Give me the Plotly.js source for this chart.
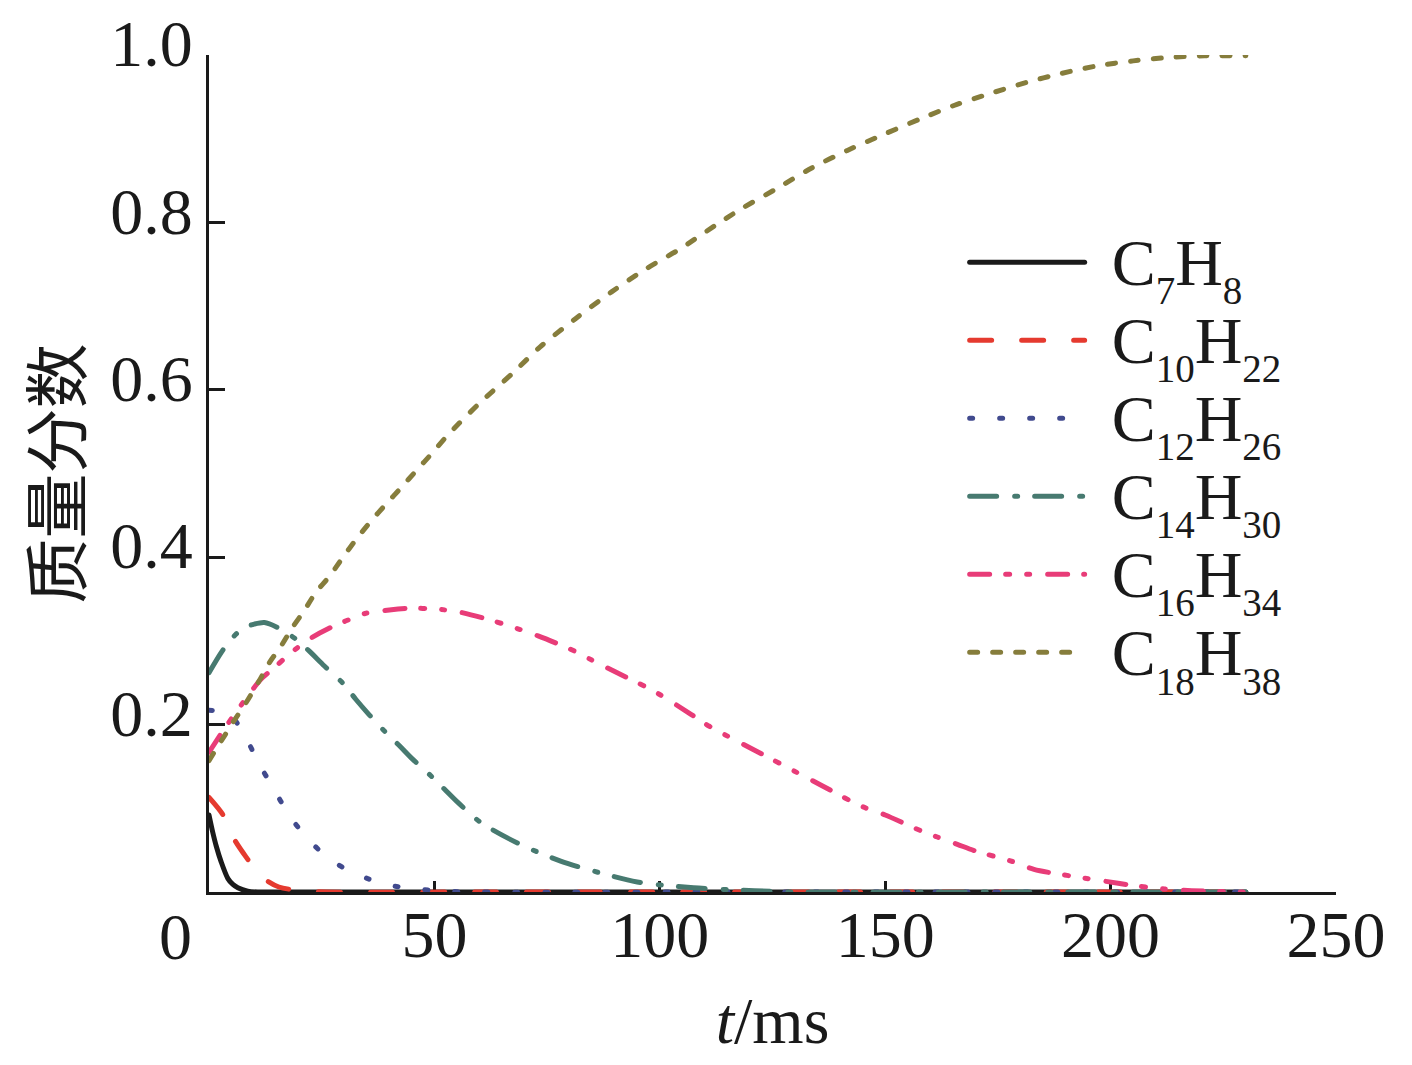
<!DOCTYPE html>
<html>
<head>
<meta charset="utf-8">
<script src="https://cdn.plot.ly/plotly-3.0.1.min.js"></script>
<style>
  html, body { margin: 0; padding: 0; background: #ffffff; }
  #chart { width: 1412px; height: 1065px; }
  path.js-line { stroke-linecap: round !important; stroke-linejoin: round !important; }
</style>
</head>
<body>
<div id="chart"></div>
<script>
// ---- data ----
const seriesNames = [
  'C<sub>7</sub>H<sub>8</sub>',
  'C<sub>10</sub>H<sub>22</sub>',
  'C<sub>12</sub>H<sub>26</sub>',
  'C<sub>14</sub>H<sub>30</sub>',
  'C<sub>16</sub>H<sub>34</sub>',
  'C<sub>18</sub>H<sub>38</sub>'
];

const tC7H8 = [0, 0.8, 1.6, 2.7, 4.2, 5.3, 6.4, 8.6, 11, 20, 60, 120, 180, 230];
const yC7H8 = [0.092, 0.072, 0.055, 0.036, 0.016, 0.009, 0.005, 0.001, 0, 0, 0, 0, 0, 0];

const tC10H22 = [0, 3.0, 5.6, 8.2, 11.5, 15.5, 20.8, 26, 60, 120, 180, 230];
const yC10H22 = [0.113, 0.093, 0.063, 0.042, 0.019, 0.006, 0.0015, 0, 0, 0, 0, 0];

const tC12H26 = [0, 2.5, 4.9, 8.6, 11.1, 14.4, 17.4, 21, 25.5, 30.4, 35.2, 40, 45.5, 52, 60, 120, 180, 230];
const yC12H26 = [0.217, 0.216, 0.211, 0.180, 0.153, 0.123, 0.095, 0.069, 0.045, 0.027, 0.016, 0.008, 0.004, 0.001, 0, 0, 0, 0];

const tC14H30 = [0, 2.7, 4.9, 7.5, 10, 12.3, 15.6, 19.3, 22.2, 25.6, 29.6, 32.6, 35.5, 38.5, 42.2, 45.1, 48.8, 52.2, 55.2, 60.3, 69, 78, 84, 95, 107.5, 121, 130, 180, 230];
const yC14H30 = [0.262, 0.286, 0.302, 0.315, 0.320, 0.322, 0.315, 0.302, 0.288, 0.270, 0.250, 0.230, 0.212, 0.1945, 0.175, 0.159, 0.141, 0.123, 0.107, 0.083, 0.057, 0.037, 0.027, 0.012, 0.005, 0.0015, 0, 0, 0];

const tC16H34 = [0, 3.8, 7.5, 11.5, 14.5, 17.8, 22.2, 27, 30.4, 34.8, 40, 44.4, 50.3, 55.1, 63, 73, 81, 86, 99, 107, 111, 124, 136, 144.5, 150, 158, 166, 170, 178.5, 183, 192.5, 198, 206, 212, 218, 225, 230];
const yC16H34 = [0.167, 0.198, 0.226, 0.254, 0.268, 0.284, 0.302, 0.316, 0.324, 0.333, 0.337, 0.339, 0.338, 0.335, 0.324, 0.306, 0.288, 0.274, 0.239, 0.212, 0.198, 0.161, 0.127, 0.103, 0.092, 0.073, 0.057, 0.049, 0.036, 0.027, 0.018, 0.0135, 0.007, 0.0036, 0.0016, 0.0005, 0];

const tC18H38 = [0, 5.3, 8.2, 11.1, 13.4, 16, 18.5, 21.1, 23.7, 26.7, 29.6, 32.6, 35.9, 39.2, 42.6, 45.9, 49.6, 52.8, 60, 67.2, 73.4, 81.3, 89.3, 97.1, 104.4, 112.2, 118, 125.8, 133.7, 141.6, 149.6, 157.5, 165.4, 173.3, 181.2, 189.1, 197, 205, 212.9, 220.8, 230];
const yC18H38 = [0.157, 0.2025, 0.226, 0.252, 0.274, 0.294, 0.316, 0.336, 0.358, 0.377, 0.399, 0.421, 0.443, 0.463, 0.483, 0.503, 0.525, 0.545, 0.584, 0.619, 0.651, 0.685, 0.717, 0.745, 0.768, 0.796, 0.816, 0.840, 0.865, 0.886, 0.905, 0.923, 0.940, 0.954, 0.967, 0.978, 0.987, 0.993, 0.997, 0.999, 0.999];

const xTickVals = [50, 100, 150, 200, 250];
const xTickText = ['50', '100', '150', '200', '250'];
const yTickVals = [0.2, 0.4, 0.6, 0.8, 1.0];
const yTickText = ['0.2', '0.4', '0.6', '0.8', '1.0'];
const originLabel = '0';
const xTitle = '<i>t</i>/ms';
const yTitle = '质量分数';

// ---- styles ----
const colors = ['#1a1a1a', '#e53a2f', '#414a8e', '#477a70', '#e83c78', '#867d3c'];
const dashes = ['solid', '22px,30px', '3px,27px', '27px,18px,3px,17px', '20px,16px,4px,17px,3px,18px', '8px,15px'];
const serif = 'Liberation Serif, Times New Roman, serif';
const ink = '#1a1a1a';

// legend label: big C/H, small and lower subscripts
function legendLabel(s) {
  const body = s.replace(/<sub>(.*?)<\/sub>/g,
    '</span><span style="font-size:94px"><sub><span style="font-size:39px">$1</span></sub></span><span style="font-size:66px">');
  return '<span style="font-size:66px">\u2004' + body + '</span>';
}

const tSets = [tC7H8, tC10H22, tC12H26, tC14H30, tC16H34, tC18H38];
const ySets = [yC7H8, yC10H22, yC12H26, yC14H30, yC16H34, yC18H38];

const traces = tSets.map((t, i) => ({
  type: 'scatter',
  mode: 'lines',
  x: t,
  y: ySets[i],
  name: legendLabel(seriesNames[i]),
  line: { color: colors[i], width: 5, dash: dashes[i], shape: 'spline', smoothing: 0.8 },
  hoverinfo: 'skip'
}));

const layout = {
  width: 1412,
  height: 1065,
  margin: { l: 209, r: 76, t: 55, b: 173, pad: 0 },
  paper_bgcolor: '#ffffff',
  plot_bgcolor: '#ffffff',
  font: { family: serif, size: 66, color: ink },
  showlegend: true,
  legend: {
    x: 0.6705, y: 0.805, xanchor: 'left', yanchor: 'top',
    font: { family: serif, size: 57.7, color: ink },
    itemwidth: 115,
    bgcolor: 'rgba(0,0,0,0)',
    borderwidth: 0,
    tracegroupgap: 0
  },
  xaxis: {
    range: [0, 250],
    tickmode: 'array', tickvals: xTickVals, ticktext: xTickText,
    ticks: 'inside', ticklen: 11, tickwidth: 3, tickcolor: ink,
    showline: true, linewidth: 3, linecolor: ink,
    showgrid: false, zeroline: false,
    tickfont: { family: serif, size: 66, color: ink },
    ticklabelstandoff: -17,
    title: { text: xTitle, font: { family: serif, size: 66, color: ink }, standoff: 27 },
    layer: 'below traces',
    fixedrange: true
  },
  yaxis: {
    range: [0, 1],
    tickmode: 'array', tickvals: yTickVals, ticktext: yTickText,
    ticks: 'inside', ticklen: 16, tickwidth: 3, tickcolor: ink,
    showline: true, linewidth: 3, linecolor: ink,
    showgrid: false, zeroline: false,
    tickfont: { family: serif, size: 66, color: ink },
    ticklabelshift: -12,
    title: { text: yTitle, font: { family: 'Noto Sans CJK SC, sans-serif', size: 65, color: ink }, standoff: 8 },
    layer: 'below traces',
    fixedrange: true
  },
  annotations: [{
    text: originLabel, xref: 'paper', yref: 'paper',
    x: -0.0293, y: -0.053, xanchor: 'center', yanchor: 'middle',
    showarrow: false, font: { family: serif, size: 66, color: ink }
  }]
};

Plotly.newPlot('chart', traces, layout, { staticPlot: true, displayModeBar: false });
</script>
</body>
</html>
